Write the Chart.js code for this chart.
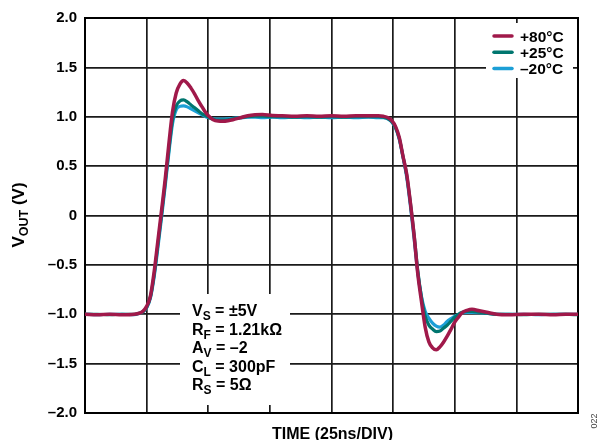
<!DOCTYPE html>
<html>
<head>
<meta charset="utf-8">
<script src="https://cdn.jsdelivr.net/npm/chart.js@4.4.1/dist/chart.umd.min.js"></script>
<style>
  html, body { margin: 0; padding: 0; background: #fff; }
  #wrap { width: 599px; height: 440px; position: relative; }
</style>
</head>
<body>
<div id="wrap"><canvas id="c" width="599" height="440"></canvas></div>
<script>
// ---- data (time in ns, 25 ns/div; voltages in V) ----
const timeNs = [0, 5, 10, 15, 20, 22, 23.5, 25, 26.5, 28,
  29.5, 31, 32.5, 34, 35.5, 37, 38.5, 40, 41.5, 43,
  44.5, 46, 47.5, 49, 50.5, 52, 54, 56, 58, 60,
  63, 66, 69, 72, 76, 80, 85, 90, 95, 100,
  105, 110, 115, 119, 121, 123, 124.5, 126, 127.5, 129,
  130.5, 132, 133.5, 135, 136.5, 138, 139.5, 141, 142.5, 144,
  145.5, 147, 148.5, 150, 151.5, 153, 155, 157, 160, 163,
  167, 172, 178, 184, 190, 195, 200];

const vout80 = [-1.0, -1.005, -1.0, -1.005, -1.0, -0.99, -0.97, -0.92, -0.82, -0.58,
  -0.27, 0.04, 0.36, 0.72, 1.05, 1.24, 1.33, 1.366, 1.34, 1.29,
  1.23, 1.16, 1.10, 1.04, 1.0, 0.97, 0.957, 0.955, 0.96, 0.97,
  0.99, 1.01, 1.02, 1.022, 1.012, 1.01, 1.005, 1.01, 1.005, 1.01,
  1.005, 1.01, 1.01, 1.01, 1.005, 0.99, 0.96, 0.90, 0.79, 0.60,
  0.42, 0.13, -0.20, -0.59, -0.87, -1.13, -1.28, -1.34, -1.36, -1.33,
  -1.28, -1.22, -1.15, -1.08, -1.03, -0.985, -0.96, -0.95, -0.965, -0.98,
  -1.0, -1.005, -1.0, -1.0, -1.005, -1.0, -1.0];

const vout25 = [-1.0, -1.0, -1.005, -1.0, -1.0, -0.99, -0.975, -0.93, -0.83, -0.61,
  -0.31, 0.0, 0.32, 0.66, 0.97, 1.11, 1.16, 1.17, 1.15, 1.12,
  1.09, 1.06, 1.03, 1.01, 0.99, 0.975, 0.965, 0.965, 0.97, 0.98,
  0.99, 1.0, 1.005, 1.005, 1.0, 1.0, 0.995, 1.0, 0.995, 1.0,
  0.995, 1.0, 1.0, 1.0, 0.995, 0.98, 0.95, 0.89, 0.78, 0.60,
  0.41, 0.13, -0.19, -0.56, -0.83, -1.02, -1.11, -1.15, -1.175, -1.17,
  -1.14, -1.11, -1.07, -1.03, -1.0, -0.98, -0.97, -0.97, -0.98, -0.99,
  -1.0, -1.0, -1.005, -1.0, -1.0, -1.0, -1.005];

const voutM20 = [-1.0, -1.005, -1.0, -1.0, -1.005, -0.99, -0.975, -0.935, -0.84, -0.63,
  -0.34, -0.03, 0.29, 0.63, 0.93, 1.07, 1.105, 1.11, 1.10, 1.08,
  1.06, 1.04, 1.02, 1.0, 0.99, 0.98, 0.975, 0.975, 0.98, 0.985,
  0.99, 0.995, 0.995, 0.99, 0.995, 0.99, 0.995, 0.99, 0.995, 0.99,
  0.995, 0.99, 0.995, 0.99, 0.99, 0.975, 0.945, 0.885, 0.77, 0.59,
  0.39, 0.10, -0.23, -0.58, -0.82, -0.97, -1.04, -1.09, -1.12, -1.13,
  -1.11, -1.07, -1.045, -1.02, -1.005, -0.985, -0.98, -0.98, -0.985, -0.99,
  -1.0, -1.0, -1.0, -1.005, -1.0, -1.0, -1.0];

const seriesLabels = ['+80°C', '+25°C', '\u201320°C'];
const seriesColors = ['#A0194A', '#00766F', '#1C9FD6'];

const yTickValues = [2, 1.5, 1, 0.5, 0, -0.5, -1, -1.5, -2];
const yTickLabels = ['2.0', '1.5', '1.0', '0.5', '0', '\u20130.5', '\u20131.0', '\u20131.5', '\u20132.0'];

const xTitle = 'TIME (25ns/DIV)';
const yTitleParts = [['V', false], ['OUT', true], [' (V)', false]];
const conditions = [
  [['V', false], ['S', true], [' = \u00B15V', false]],
  [['R', false], ['F', true], [' = 1.21k\u03A9', false]],
  [['A', false], ['V', true], [' = \u20132', false]],
  [['C', false], ['L', true], [' = 300pF', false]],
  [['R', false], ['S', true], [' = 5\u03A9', false]]
];
const figNumber = '022';

// ---- drawing ----
const FAM = '"Liberation Sans", Arial, Helvetica, sans-serif';
let mainFont = 'bold 16px ' + FAM;
let subFont = 'bold 12px ' + FAM;

function richWidth(ctx, parts) {
  let w = 0;
  for (const [t, sub] of parts) { ctx.font = sub ? subFont : mainFont; w += ctx.measureText(t).width; }
  return w;
}
function drawRich(ctx, x, y, parts) {
  let cx = x;
  for (const [t, sub] of parts) {
    ctx.font = sub ? subFont : mainFont;
    ctx.fillText(t, cx, sub ? y + 4 : y);
    cx += ctx.measureText(t).width;
  }
}

const decor = {
  id: 'decor',
  beforeDatasetsDraw(chart) {
    const ctx = chart.ctx, a = chart.chartArea;
    ctx.save();
    ctx.fillStyle = '#fff';
    ctx.fillRect(486, 23, 87, 55);     // legend background
    ctx.fillRect(180, 294, 110, 111);  // conditions background
    ctx.strokeStyle = '#000';
    ctx.lineWidth = 2;
    ctx.strokeRect(a.left, a.top, a.right - a.left, a.bottom - a.top);
    ctx.restore();
  },
  afterDraw(chart) {
    const ctx = chart.ctx, a = chart.chartArea;
    ctx.save();
    ctx.fillStyle = '#000';
    ctx.textBaseline = 'alphabetic';
    ctx.textAlign = 'left';
    // legend
    const ds = chart.data.datasets;
    for (let i = 0; i < ds.length; i++) {
      const yc = 36 + i * 16.2;
      ctx.strokeStyle = ds[i].borderColor;
      ctx.lineWidth = 3.5;
      ctx.lineCap = 'round';
      ctx.beginPath(); ctx.moveTo(494, yc); ctx.lineTo(512, yc); ctx.stroke();
      ctx.font = 'bold 15.5px ' + FAM;
      ctx.fillStyle = '#000';
      ctx.fillText(ds[i].label, 520, yc + 5.5);
    }
    // conditions
    mainFont = 'bold 16px ' + FAM; subFont = 'bold 12px ' + FAM;
    for (let i = 0; i < conditions.length; i++) {
      drawRich(ctx, 192, 316 + i * 18.5, conditions[i]);
    }
    // x title
    ctx.font = 'bold 16px ' + FAM;
    ctx.textAlign = 'center';
    ctx.fillText(xTitle, (a.left + a.right) / 2 + 1, 439);
    // y title
    ctx.textAlign = 'left';
    ctx.save();
    ctx.translate(24, 215);
    ctx.rotate(-Math.PI / 2);
    mainFont = 'bold 17px ' + FAM; subFont = 'bold 12.5px ' + FAM;
    const w = richWidth(ctx, yTitleParts);
    drawRich(ctx, -w / 2, 0, yTitleParts);
    ctx.restore();
    // figure number
    ctx.save();
    ctx.translate(597, 421);
    ctx.rotate(-Math.PI / 2);
    ctx.font = '9px ' + FAM;
    ctx.fillStyle = '#444';
    ctx.textAlign = 'center';
    ctx.fillText(figNumber, 0, 0);
    ctx.restore();
    ctx.restore();
  }
};

const vals = [vout80, vout25, voutM20];
const datasets = vals.map((v, i) => ({
  label: seriesLabels[i],
  data: timeNs.map((t, k) => ({ x: t, y: v[k] })),
  borderColor: seriesColors[i],
  backgroundColor: seriesColors[i],
  borderWidth: i === 0 ? 3.5 : 3.2,
  pointRadius: 0,
  fill: false,
  cubicInterpolationMode: 'monotone',
  borderJoinStyle: 'round',
  borderCapStyle: 'round'
}));

new Chart(document.getElementById('c'), {
  type: 'line',
  data: { datasets },
  options: {
    responsive: false,
    animation: false,
    events: [],
    layout: { padding: { top: 18, right: 21, left: 0, bottom: 0 } },
    plugins: { legend: { display: false }, tooltip: { enabled: false }, title: { display: false } },
    scales: {
      x: {
        type: 'linear', min: 0, max: 200,
        ticks: { display: false, stepSize: 25 },
        grid: { color: '#1a1a1a', lineWidth: 1.7, drawTicks: false },
        border: { display: true, color: '#000', width: 2 },
        afterFit(s) { s.height = 27; }
      },
      y: {
        type: 'linear', min: -2, max: 2,
        ticks: {
          stepSize: 0.5, padding: 8, color: '#000',
          font: { family: FAM, size: 15, weight: 'bold' },
          callback(v) {
            const idx = yTickValues.findIndex(t => Math.abs(t - v) < 1e-6);
            return idx >= 0 ? yTickLabels[idx] : '';
          }
        },
        grid: { color: '#1a1a1a', lineWidth: 1.7, drawTicks: false },
        border: { display: true, color: '#000', width: 2 },
        afterFit(s) { s.width = 85; }
      }
    }
  },
  plugins: [decor]
});
</script>
</body>
</html>
